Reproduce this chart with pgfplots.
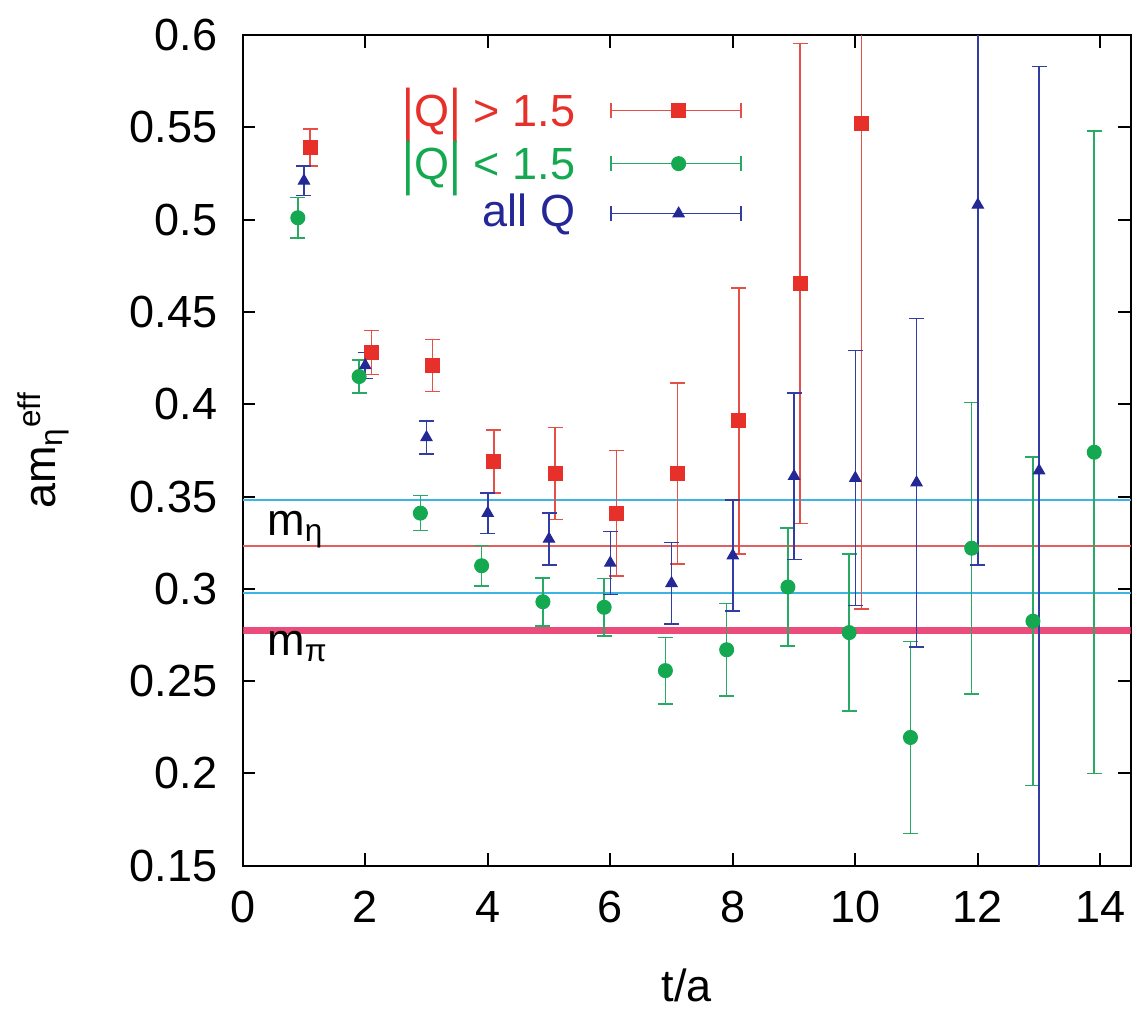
\documentclass[border=0pt]{standalone}
\usepackage{fontspec}
\setmainfont{Liberation Sans}
\usepackage{graphicx}
\usepackage{pgfplots}
\pgfplotsset{compat=1.18}

\definecolor{qred}{RGB}{232,48,42}
\definecolor{qredbar}{RGB}{228,80,70}
\definecolor{qgreen}{RGB}{20,168,80}
\definecolor{qgreenbar}{RGB}{40,170,100}
\definecolor{qblue}{RGB}{36,40,150}
\definecolor{qbluebar}{RGB}{50,60,165}
\definecolor{lcyan}{RGB}{60,180,230}
\definecolor{lred}{RGB}{225,95,95}
\definecolor{lpink}{RGB}{232,45,100}

% tall bars as in |Q|
\newcommand{\bigbar}{\raisebox{-0.08em}{\scalebox{1}[1.3]{|}}}

\begin{document}
\fontsize{18}{21}\selectfont
\begin{tikzpicture}
\begin{axis}[
  scale only axis,
  width=355pt, height=332pt,
  xmin=0, xmax=14.5, ymin=0.15, ymax=0.6,
  xtick={0,2,4,6,8,10,12,14},
  ytick={0.15,0.2,0.25,0.3,0.35,0.4,0.45,0.5,0.55,0.6},
  tick align=inside,
  major tick length=5pt,
  every tick/.style={black, line width=0.8pt},
  axis line style={black, line width=0.8pt},
  /pgf/number format/assume math mode=true,
  y tick label style={/pgf/number format/fixed, /pgf/number format/precision=2, xshift=-4pt},
  x tick label style={yshift=-4pt},
  tick label style={font=\fontsize{18}{21}\selectfont},
  xlabel={t/a},
  ylabel={am\textsubscript{η}\textsuperscript{eff}},
  label style={font=\fontsize{18}{21}\selectfont},
  xlabel style={yshift=-6pt},
  ylabel style={yshift=12pt},
  legend style={at={(axis cs:8.28,0.532)}, anchor=east, draw=none, fill=none,
    font=\fontsize{18}{21}\selectfont, row sep=-1pt,
    /tikz/every odd column/.append style={column sep=12pt}},
  legend cell align=right,
  legend plot pos=right,
]

% reference lines
\addplot[lcyan, line width=0.8pt, forget plot] coordinates {(0,0.348) (14.5,0.348)};
\addplot[lcyan, line width=0.8pt, forget plot] coordinates {(0,0.298) (14.5,0.298)};
\addplot[lred, line width=0.8pt, forget plot] coordinates {(0,0.323) (14.5,0.323)};
\addplot[lpink, opacity=0.85, line width=3pt, forget plot] coordinates {(0,0.2775) (14.5,0.2775)};

% |Q| > 1.5
\addplot[qred, only marks, mark=square*, mark size=2.8pt,
  error bars/.cd, y dir=both, y explicit,
  error bar style={qredbar, line width=0.6pt},
  error mark options={rotate=90, mark size=3pt, qredbar, line width=0.6pt},
  /pgfplots/legend image code/.code={
    \draw[qredbar, line width=0.6pt] (0pt,0pt) -- (52pt,0pt) (0pt,-3pt) -- (0pt,3pt) (52pt,-3pt) -- (52pt,3pt);
    \draw[qred, mark=square*, mark size=2.8pt, only marks] plot coordinates {(27pt,0pt)};
  }]
  table[x=t, y=v, y error=e] {
t    v      e
1.1  0.539  0.010
2.1  0.428  0.012
3.1  0.421  0.014
4.1  0.369  0.017
5.1  0.3625 0.025
6.1  0.341  0.034
7.1  0.3625 0.049
8.1  0.391  0.072
9.1  0.4655 0.130
10.1 0.552  0.263
};
\addlegendentry[text=qred]{\bigbar Q\bigbar{} > 1.5}

% |Q| < 1.5
\addplot[qgreen, only marks, mark=*, mark size=2.8pt,
  error bars/.cd, y dir=both, y explicit,
  error bar style={qgreenbar, line width=0.6pt},
  error mark options={rotate=90, mark size=3pt, qgreenbar, line width=0.6pt},
  /pgfplots/legend image code/.code={
    \draw[qgreenbar, line width=0.6pt] (0pt,0pt) -- (52pt,0pt) (0pt,-3pt) -- (0pt,3pt) (52pt,-3pt) -- (52pt,3pt);
    \draw[qgreen, mark=*, mark size=2.8pt, only marks] plot coordinates {(27pt,0pt)};
  }]
  table[x=t, y=v, y error=e] {
t    v      e
0.9  0.501  0.011
1.9  0.415  0.009
2.9  0.341  0.0095
3.9  0.3125 0.011
4.9  0.293  0.013
5.9  0.290  0.0155
6.9  0.2557 0.018
7.9  0.267  0.025
8.9  0.301  0.032
9.9  0.2763 0.0425
10.9 0.2195 0.052
11.9 0.322  0.079
12.9 0.2825 0.089
13.9 0.374  0.174
};
\addlegendentry[text=qgreen]{\bigbar Q\bigbar{} < 1.5}

% all Q
\addplot[qblue, only marks, mark=triangle*, mark size=2.6pt,
  error bars/.cd, y dir=both, y explicit,
  error bar style={qbluebar, line width=0.6pt},
  error mark options={rotate=90, mark size=3pt, qbluebar, line width=0.6pt},
  /pgfplots/legend image code/.code={
    \draw[qbluebar, line width=0.6pt] (0pt,0pt) -- (52pt,0pt) (0pt,-3pt) -- (0pt,3pt) (52pt,-3pt) -- (52pt,3pt);
    \draw[qblue, mark=triangle*, mark size=2.6pt, only marks] plot coordinates {(27pt,0pt)};
  }]
  table[x=t, y=v, y error=e] {
t    v      e
1.0  0.521  0.008
2.0  0.421  0.007
3.0  0.382  0.009
4.0  0.341  0.011
5.0  0.327  0.014
6.0  0.314  0.017
7.0  0.303  0.022
8.0  0.318  0.030
9.0  0.361  0.045
10.0 0.360  0.069
11.0 0.3575 0.089
12.0 0.508  0.195
13.0 0.364  0.219
};
\addlegendentry[text=qblue]{all Q}

\node[anchor=base west, font=\fontsize{18}{21}\selectfont] at (axis cs:0.15,0.329) {m\textsubscript{η}};
\node[anchor=base west, font=\fontsize{18}{21}\selectfont] at (axis cs:0.15,0.264) {m\textsubscript{π}};
\end{axis}
\pgfresetboundingbox
\path ([shift={(-97pt,-57pt)}]current axis.south west) rectangle ([shift={(6pt,14pt)}]current axis.north east);
\end{tikzpicture}
\end{document}
